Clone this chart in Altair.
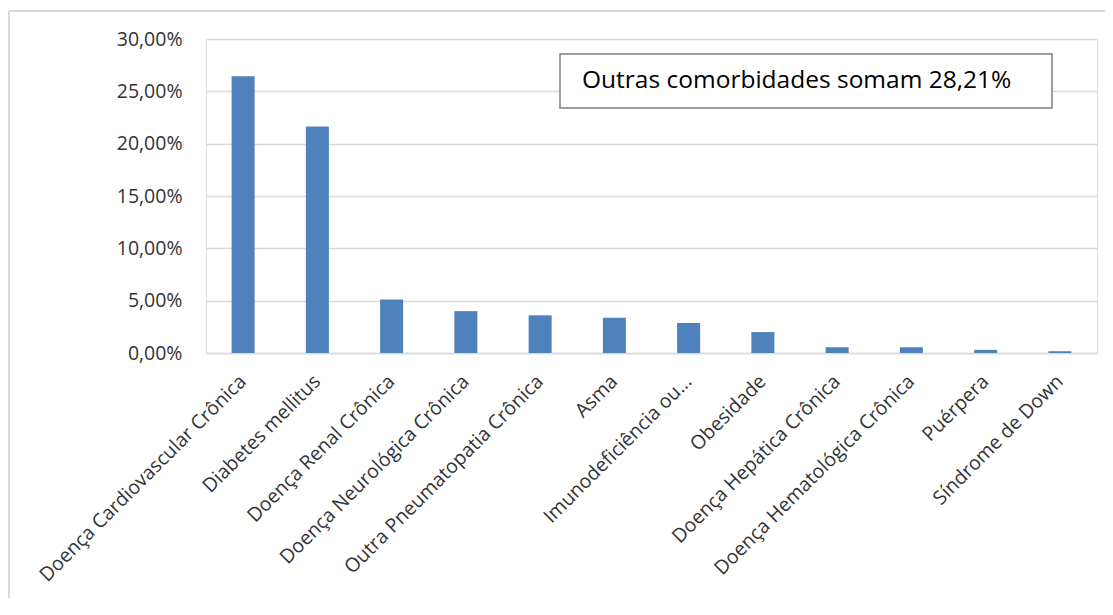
import altair as alt
import pandas as pd

categories = [
    "Doença Cardiovascular Crônica",
    "Diabetes mellitus",
    "Doença Renal Crônica",
    "Doença Neurológica Crônica",
    "Outra Pneumatopatia Crônica",
    "Asma",
    "Imunodeficiência ou...",
    "Obesidade",
    "Doença Hepática Crônica",
    "Doença Hematológica Crônica",
    "Puérpera",
    "Síndrome de Down",
]
values = [26.45, 21.65, 5.1, 4.0, 3.6, 3.37, 2.87, 2.0, 0.55, 0.55, 0.3, 0.17]
y_ticks = [0, 5, 10, 15, 20, 25, 30]
note = ["Outras comorbidades somam 28,21%"]

df = pd.DataFrame({"cat": categories, "val": values})
note_df = pd.DataFrame({"t": note})

W, H = 891, 314
FONT = "Open Sans"

bars = alt.Chart(df).mark_bar(color="#4F81BD").encode(
    x=alt.X("cat:N", sort=categories,
            scale=alt.Scale(paddingInner=0.69, paddingOuter=0.345),
            axis=alt.Axis(title=None, labelAngle=-45, labelAlign="right",
                          labelBaseline="middle", labelFontSize=19.5, labelFont=FONT,
                          labelColor="#333333", labelPadding=25, ticks=False,
                          domainColor="#d9d9d9", domainWidth=1.5, labelLimit=400)),
    y=alt.Y("val:Q", scale=alt.Scale(domain=[0, 30], nice=False),
            axis=alt.Axis(title=None, values=y_ticks, domain=False, ticks=False,
                          labelExpr="replace(format(datum.value, '.2f'), '.', ',') + '%'",
                          labelFontSize=19.5, labelFont=FONT, labelColor="#333333",
                          labelPadding=24, gridColor="#d9d9d9", gridWidth=1.5)),
)

box = alt.Chart(note_df).mark_rect(fill="white", stroke="#7f7f7f", strokeWidth=1.5).encode(
    x=alt.value(354), x2=alt.value(846), y=alt.value(15), y2=alt.value(69)
)
txt = alt.Chart(note_df).mark_text(align="left", baseline="middle", fontSize=24.5,
                                   font=FONT, color="#000000").encode(
    x=alt.value(376), y=alt.value(42), text="t:N"
)
frame_left = alt.Chart(note_df).mark_rule(color="#d9d9d9", strokeWidth=2).encode(
    x=alt.value(-197), y=alt.value(-28), y2=alt.value(H + 260)
)
frame_top = alt.Chart(note_df).mark_rule(color="#d9d9d9", strokeWidth=2).encode(
    x=alt.value(-197), x2=alt.value(W + 40), y=alt.value(-28)
)

chart = alt.layer(frame_left, frame_top, bars, box, txt).properties(
    width=W, height=H,
    autosize=alt.AutoSizeParams(type="none"),
    padding={"left": 198, "top": 31, "right": 8, "bottom": 245},
).configure_view(stroke=None).configure(background="white")

chart.save("out.html", embed_options={"renderer": "svg", "actions": False})
